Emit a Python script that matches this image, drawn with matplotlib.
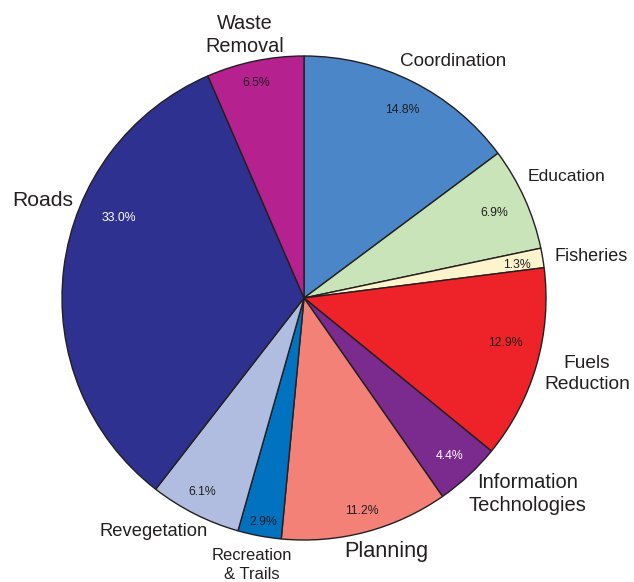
import numpy as np
import matplotlib
matplotlib.use("Agg")
import matplotlib.pyplot as plt

categories = ["Coordination", "Education", "Fisheries", "Fuels\nReduction",
              "Information\nTechnologies", "Planning", "Recreation\n& Trails",
              "Revegetation", "Roads", "Waste\nRemoval"]
values = [14.8, 6.9, 1.3, 12.9, 4.4, 11.2, 2.9, 6.1, 33.0, 6.5]
colors = ["#4a86c8", "#c9e4b9", "#fdf3cd", "#ee2229", "#7b2a8e",
          "#f48177", "#0072c0", "#b0bde0", "#2e3190", "#b5218e"]
pct_colors = ["#231f20"] * 4 + ["white"] + ["#231f20"] * 3 + ["white", "#231f20"]

# label styling (size in pt, radial distance, angle offset in degrees)
label_sizes = [13.6, 12.6, 13.0, 13.8, 14.5, 15.6, 11.9, 13.2, 15.2, 14.3]
label_dist = [1.157, 1.196, 1.197, 1.210, 1.228, 1.103, 1.124, 1.146, 1.151, 1.113]
label_off = [-5.6, 0.5, -1.4, 1.0, 5.9, 3.3, -0.5, -6.0, -13.3, 0.9]
pct_dist = [0.878, 0.86, 0.891, 0.851, 0.889, 0.913, 0.941, 0.905, 0.833, 0.911]
pct_off = [-1.0, -0.3, -0.7, 3.4, -0.2, 0.4, 0.3, -0.8, -16.1, 0.9]

plt.rcParams['font.family'] = ['Liberation Sans', 'DejaVu Sans']

W, H = 634, 582
fig = plt.figure(figsize=(W / 100, H / 100), dpi=100)
ax = fig.add_axes([0, 0, 1, 1])
R = 242.0
cx, cy = 304.0, 284.0

wedges, texts = ax.pie(values, colors=colors, startangle=90, counterclock=False,
                       labels=None,
                       wedgeprops=dict(edgecolor="#231f20", linewidth=1.0))

for i, w in enumerate(wedges):
    mid = np.deg2rad((w.theta1 + w.theta2) / 2)
    a = mid + np.deg2rad(label_off[i])
    ax.text(label_dist[i] * np.cos(a), label_dist[i] * np.sin(a), categories[i],
            ha="center", va="center", fontsize=label_sizes[i], color="#231f20",
            linespacing=1.28)
    a2 = mid + np.deg2rad(pct_off[i])
    ax.text(pct_dist[i] * np.cos(a2), pct_dist[i] * np.sin(a2), f"{values[i]:.1f}%",
            ha="center", va="center", fontsize=8.8, color=pct_colors[i])

ax.set_aspect("auto")
ax.set_xlim(-cx / R, (W - cx) / R)
ax.set_ylim(-cy / R, (H - cy) / R)
ax.axis("off")

fig.savefig("out.png", dpi=100)
